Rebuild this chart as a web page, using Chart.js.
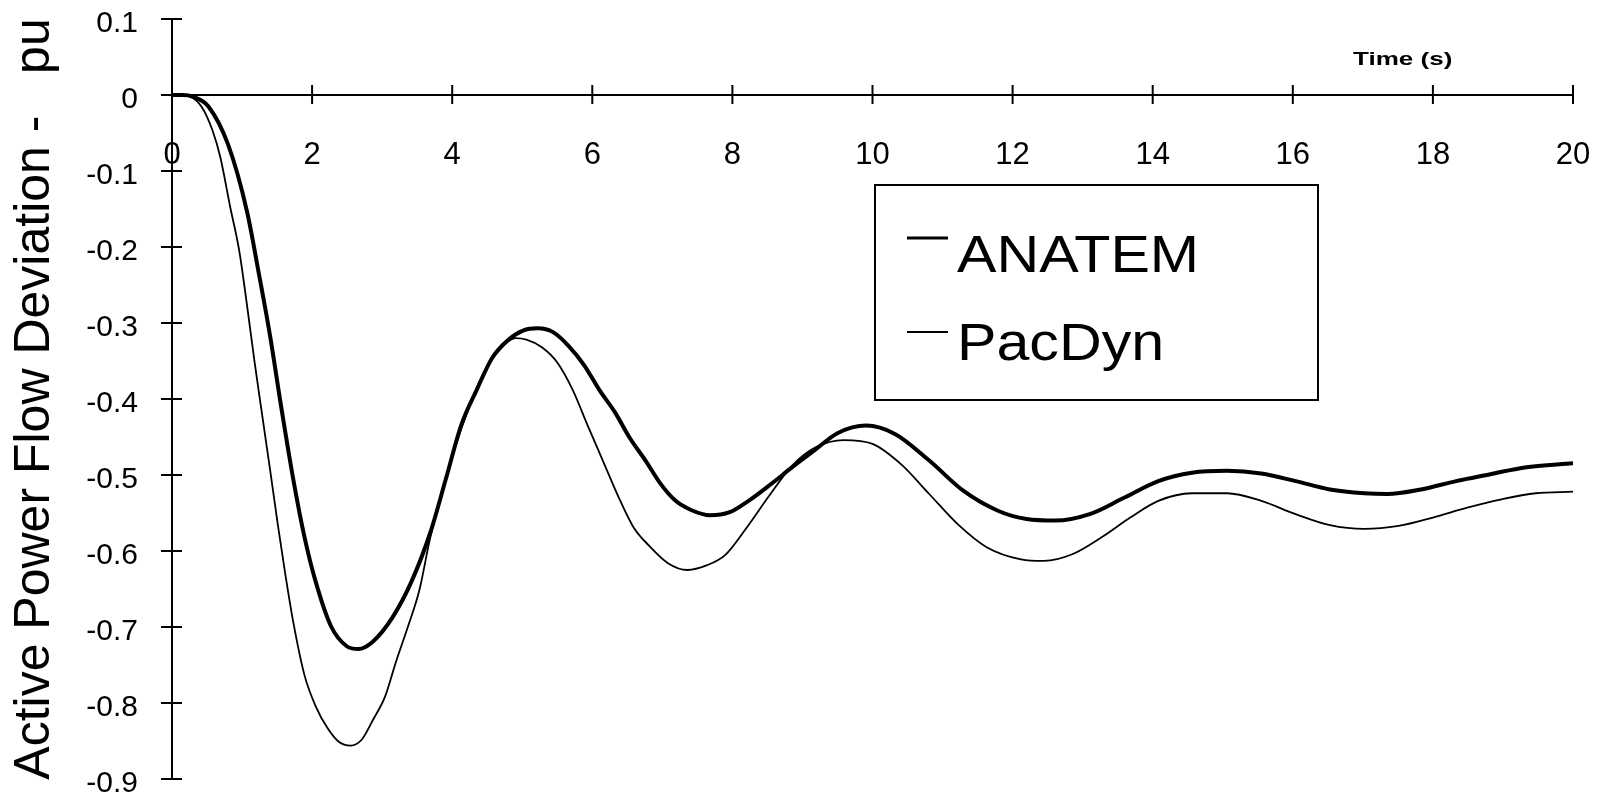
<!DOCTYPE html>
<html>
<head>
<meta charset="utf-8">
<script src="https://cdn.jsdelivr.net/npm/chart.js@4.4.1/dist/chart.umd.min.js"></script>
<style>
  html, body { margin: 0; padding: 0; background: #fff; }
</style>
</head>
<body>
<canvas id="chart" width="1597" height="798"></canvas>
<script>
// values
const anatemTime = [0, 0.15, 0.3, 0.52, 0.8, 1.07, 1.24, 1.4, 1.56, 1.73, 1.89, 2.05, 2.27, 2.49, 2.66, 2.87,
  3.15, 3.42, 3.69, 3.91, 4.13, 4.35, 4.57, 4.79, 5.01, 5.22, 5.44, 5.66, 5.88, 6.1, 6.32, 6.54, 6.76, 6.97,
  7.19, 7.41, 7.68, 7.96, 8.23, 8.55, 8.85, 9.18, 9.5, 9.91, 10.32, 10.81, 11.3, 11.79, 12.2, 12.61, 13.1,
  13.59, 14.08, 14.56, 15.06, 15.55, 16.04, 16.53, 17.02, 17.35, 17.83, 18.33, 18.82, 19.31, 20];
const anatemValues = [0, 0, -0.002, -0.015, -0.065, -0.153, -0.235, -0.317, -0.411, -0.505, -0.581, -0.64, -0.699,
  -0.725, -0.729, -0.719, -0.687, -0.64, -0.575, -0.505, -0.434, -0.388, -0.346, -0.323, -0.31, -0.307, -0.312,
  -0.33, -0.355, -0.388, -0.417, -0.452, -0.481, -0.511, -0.534, -0.546, -0.553, -0.549, -0.534, -0.512, -0.49,
  -0.467, -0.445, -0.435, -0.446, -0.481, -0.521, -0.547, -0.558, -0.56, -0.5515, -0.53, -0.508, -0.497, -0.4945,
  -0.498, -0.508, -0.519, -0.524, -0.525, -0.519, -0.508, -0.499, -0.49, -0.4845];

const pacdynTime = [0, 0.25, 0.42, 0.58, 0.69, 0.83, 0.96, 1.07, 1.18, 1.29, 1.4, 1.51, 1.62, 1.73, 1.89, 2.05,
  2.22, 2.38, 2.55, 2.71, 2.87, 3.04, 3.2, 3.37, 3.53, 3.69, 3.86, 4.02, 4.24, 4.46, 4.68, 4.9, 5.06, 5.28, 5.5,
  5.72, 5.93, 6.15, 6.37, 6.59, 6.81, 7.08, 7.36, 7.63, 7.9, 8.19, 8.52, 8.85, 9.18, 9.59, 10, 10.41, 10.81,
  11.22, 11.63, 12.12, 12.45, 12.86, 13.27, 13.68, 14.08, 14.56, 15.06, 15.55, 16.04, 16.53, 17.02, 17.51, 18,
  18.49, 18.98, 19.47, 20];
const pacdynValues = [0, -0.002, -0.015, -0.047, -0.082, -0.147, -0.205, -0.276, -0.352, -0.423, -0.493, -0.565,
  -0.632, -0.693, -0.763, -0.804, -0.833, -0.851, -0.856, -0.848, -0.822, -0.792, -0.745, -0.699, -0.652, -0.581,
  -0.523, -0.47, -0.411, -0.364, -0.335, -0.32, -0.322, -0.332, -0.352, -0.388, -0.434, -0.481, -0.528, -0.569,
  -0.593, -0.616, -0.625, -0.619, -0.605, -0.571, -0.528, -0.488, -0.464, -0.454, -0.459, -0.486, -0.525, -0.565,
  -0.595, -0.611, -0.613, -0.604, -0.582, -0.556, -0.534, -0.524, -0.524, -0.534, -0.5515, -0.566, -0.571,
  -0.567, -0.556, -0.543, -0.532, -0.524, -0.522];

const timeTicks = [0, 2, 4, 6, 8, 10, 12, 14, 16, 18, 20];
const deviationTicks = [0.1, 0, -0.1, -0.2, -0.3, -0.4, -0.5, -0.6, -0.7, -0.8, -0.9];

const FONT = "'Liberation Sans', Arial, sans-serif";

function toPoints(xs, ys){
    return xs.map((x, i) => ({x: x, y: ys[i]}));
}

// axis lines through the origin, with tick marks crossing them
const crossAxes = {
    id: "crossAxes",
    beforeDatasetsDraw(chart){
        const {ctx, scales: {x, y}} = chart;
        const y0 = y.getPixelForValue(0);
        const x0 = x.getPixelForValue(0);
        ctx.save();
        ctx.strokeStyle = "#000";
        ctx.lineWidth = 2;
        ctx.beginPath();
        ctx.moveTo(x0, y0);
        ctx.lineTo(x.right, y0);
        ctx.moveTo(x0, y.top);
        ctx.lineTo(x0, y.bottom);
        x.ticks.forEach(t => {
            if(t.value === 0) return;
            const px = x.getPixelForValue(t.value);
            ctx.moveTo(px, y0 - 10);
            ctx.lineTo(px, y0 + 9);
        });
        y.ticks.forEach(t => {
            const py = y.getPixelForValue(t.value);
            ctx.moveTo(x0 - 11, py);
            ctx.lineTo(x0 + 10, py);
        });
        ctx.stroke();
        ctx.restore();
    }
};

// boxed legend and the small axis caption
const boxLegend = {
    id: "boxLegend",
    afterDraw(chart){
        const ctx = chart.ctx;
        ctx.save();
        ctx.fillStyle = "#fff";
        ctx.fillRect(875, 185, 443, 215);
        ctx.strokeStyle = "#000";
        ctx.lineWidth = 2;
        ctx.strokeRect(875, 185, 443, 215);

        const sampleY = [238, 332];
        const baseY = [272, 360];
        chart.data.datasets.forEach((ds, i) => {
            ctx.lineWidth = Math.min(ds.borderWidth, 3);
            ctx.beginPath();
            ctx.moveTo(907, sampleY[i]);
            ctx.lineTo(948, sampleY[i]);
            ctx.stroke();

            ctx.save();
            ctx.translate(957, baseY[i]);
            ctx.scale(1.16, 1);
            ctx.fillStyle = "#000";
            ctx.font = "51px " + FONT;
            ctx.textBaseline = "alphabetic";
            ctx.fillText(ds.label, 0, 0);
            ctx.restore();
        });

        ctx.save();
        ctx.translate(1353, 65);
        ctx.scale(1.37, 1);
        ctx.fillStyle = "#000";
        ctx.font = "bold 19px " + FONT;
        ctx.fillText("Time (s)", 0, 0);
        ctx.restore();

        ctx.restore();
    }
};

new Chart(document.getElementById("chart"), {
    type: "line",
    data: {
        datasets: [
            {
                label: "ANATEM",
                data: toPoints(anatemTime, anatemValues),
                borderColor: "#000",
                borderWidth: 4,
                pointRadius: 0,
                cubicInterpolationMode: "monotone",
                fill: false
            },
            {
                label: "PacDyn",
                data: toPoints(pacdynTime, pacdynValues),
                borderColor: "#000",
                borderWidth: 1.8,
                pointRadius: 0,
                cubicInterpolationMode: "monotone",
                fill: false
            }
        ]
    },
    options: {
        responsive: false,
        animation: false,
        layout: {
            padding: {left: 0, top: 19, right: 24, bottom: 19}
        },
        plugins: {
            legend: {display: false},
            tooltip: {enabled: false}
        },
        scales: {
            x: {
                type: "linear",
                position: {y: 0},
                min: 0,
                max: 20,
                afterBuildTicks: s => { s.ticks = timeTicks.map(v => ({value: v})); },
                afterFit: s => { s.paddingLeft = 0; s.paddingRight = 0; },
                grid: {display: false, drawTicks: false},
                border: {display: false},
                ticks: {
                    color: "#000",
                    font: {family: FONT, size: 31},
                    padding: 42,
                    maxRotation: 0,
                    autoSkip: false
                }
            },
            y: {
                type: "linear",
                min: -0.9,
                max: 0.1,
                afterBuildTicks: s => { s.ticks = deviationTicks.map(v => ({value: v})); },
                afterFit: s => { s.width = 172; s.paddingTop = 0; s.paddingBottom = 0; },
                grid: {display: false, drawTicks: false},
                border: {display: false},
                ticks: {
                    color: "#000",
                    font: {family: FONT, size: 30},
                    padding: 34,
                    labelOffset: 5,
                    autoSkip: false,
                    callback: v => Number(v.toFixed(1)).toString()
                },
                title: {
                    display: true,
                    text: "Active Power Flow Deviation -   pu",
                    color: "#000",
                    font: {family: FONT, size: 50, lineHeight: 1.2},
                    padding: {top: 5, bottom: 0}
                }
            }
        }
    },
    plugins: [crossAxes, boxLegend]
});
</script>
</body>
</html>
